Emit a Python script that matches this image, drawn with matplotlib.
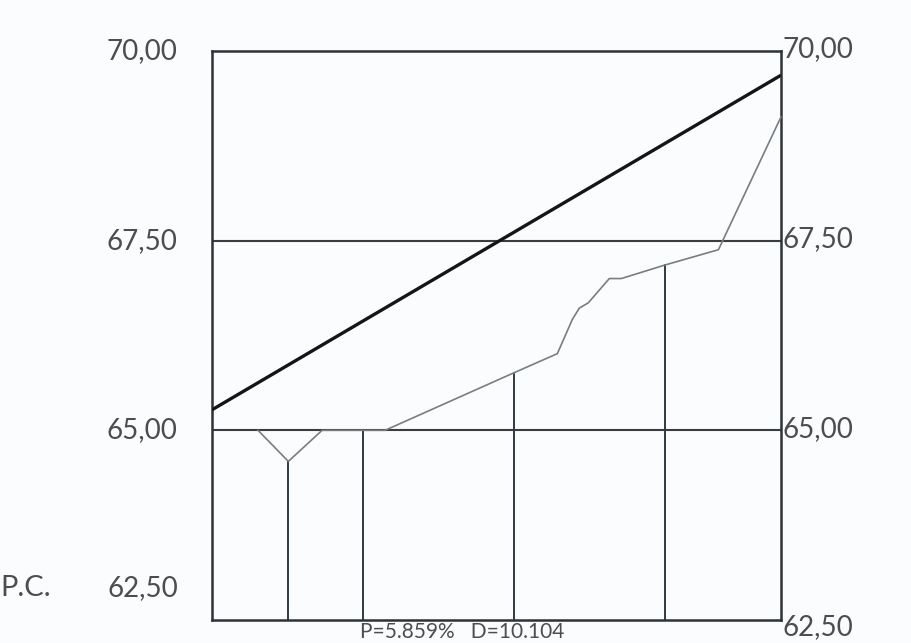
import matplotlib.pyplot as plt

# ── profile data (distance in m, elevation in m) ────────────────────
x_max = 75.3
z_min, z_max = 62.50, 70.00

grade_x = [0.0, 75.3]
grade_z = [65.27, 69.68]

terrain_x = [6.09, 10.104, 14.57, 22.91, 40.0, 45.70, 47.68, 48.61,
             49.80, 52.58, 54.17, 60.0, 67.02, 75.3]
terrain_z = [65.00, 64.59, 65.00, 65.00, 65.76, 66.01, 66.46, 66.61,
             66.68, 67.00, 67.00, 67.18, 67.38, 69.13]

station_x = [10.104, 20.0, 40.0, 60.0]
station_z = [64.59, 65.00, 65.76, 67.18]

grid_levels = [65.00, 67.50]
left_labels = ['70,00', '67,50', '65,00', '62,50']
left_label_z = [70.00, 67.50, 65.00, 62.92]
right_labels = ['70,00', '67,50', '65,00', '62,50']
right_label_z = [70.02, 67.52, 65.02, 62.41]
datum_tag = 'P.C.'

footer = 'P=5.859%   D=10.104'

# ── styling ─────────────────────────────────────────────────────────
plt.rcParams.update({
    'font.family': ['Lato', 'DejaVu Sans'],
    'font.weight': 'normal',
})
ink = '#2e3236'
paper = '#fbfcfd'
label_color = '#4d4d4d'

fig = plt.figure(figsize=(9.11, 6.43), dpi=100, facecolor=paper)
ax = fig.add_axes([0.2327, 0.0358, 0.6246, 0.885])
ax.set_facecolor(paper)
ax.set_xlim(0, x_max)
ax.set_ylim(z_min, z_max)
ax.set_xticks([])
ax.set_yticks([])
for s in ax.spines.values():
    s.set_color(ink)
    s.set_linewidth(1.8)

for lvl in grid_levels:
    ax.axhline(lvl, color='#3a3d40', lw=1.5, zorder=1)

# station verticals from datum up to the ground
for sx, sz in zip(station_x, station_z):
    ax.plot([sx, sx], [z_min, sz], color='#2f3a40', lw=1.4, zorder=2)

ax.plot(terrain_x, terrain_z, color='#7a7d80', lw=1.2, zorder=3,
        clip_on=False)
ax.plot(grade_x, grade_z, color='#151515', lw=2.4, zorder=4,
        solid_capstyle='butt')

# elevation labels, both sides
for txt, z in zip(left_labels, left_label_z):
    ax.text(-0.06, z, txt, transform=ax.get_yaxis_transform(),
            ha='right', va='center', fontsize=20, color=label_color)
for txt, z in zip(right_labels, right_label_z):
    ax.text(1.003, z, txt, transform=ax.get_yaxis_transform(),
            ha='left', va='center', fontsize=20, color=label_color)
fig.text(0.0, (left_label_z[-1] - z_min) / (z_max - z_min) * 0.885 + 0.0358,
         datum_tag, ha='left', va='center', fontsize=21, color=label_color)

fig.text(0.507, 0.001, footer, ha='center', va='bottom',
         fontsize=15, color=label_color)

fig.savefig('out.png', dpi=100, facecolor=paper)
